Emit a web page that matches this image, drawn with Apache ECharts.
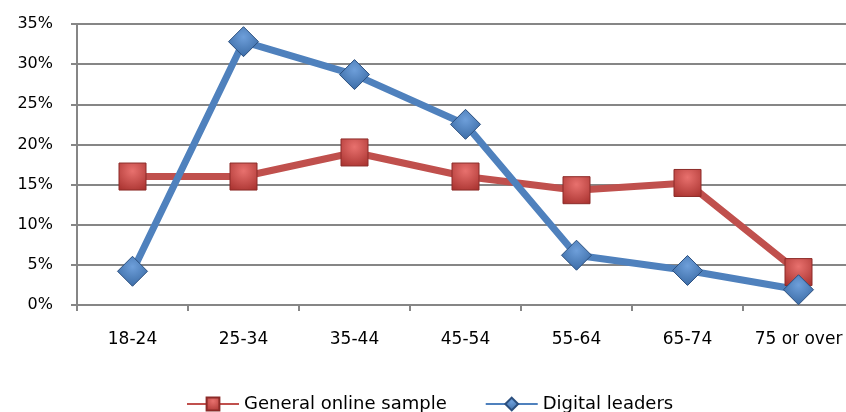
<!DOCTYPE html>
<html>
<head>
    <meta charset="utf-8">
    <title>Age profile</title>
    <script type="text/javascript" src="https://cdn.jsdelivr.net/npm/echarts@6/dist/echarts.min.js"></script>
</head>
<body style="margin:0;background:#fff;">
    <div id="main" style="width:846px; height:412px;"></div>
    <script type="text/javascript">
    // 数据
    var ageGroups = ['18-24', '25-34', '35-44', '45-54', '55-64', '65-74', '75 or over'];
    var generalSample = [16, 16, 19, 16, 14.3, 15.2, 4.1];
    var digitalLeaders = [4.2, 32.8, 28.7, 22.5, 6.2, 4.3, 1.9];

    var myChart = echarts.init(document.getElementById('main'));

    var font = 'DejaVu Sans';
    var red = '#C0504D';
    var blue = '#4F81BD';

    var option = {
        animation: false,
        backgroundColor: '#ffffff',
        legend: {
            left: 186,
            top: 395,
            padding: 0,
            itemWidth: 52,
            itemHeight: 16,
            itemGap: 38,
            textStyle: {
                fontFamily: font,
                fontSize: 18,
                color: '#000'
            },
            data: ['General online sample', 'Digital leaders']
        },
        grid: {
            left: 77,
            top: 24,
            width: 777,
            height: 281,
            outerBoundsMode: 'none'
        },
        xAxis: {
            type: 'category',
            data: ageGroups,
            boundaryGap: true,
            axisLine: { lineStyle: { color: '#868686', width: 2 } },
            axisTick: { show: true, interval: 0, length: 6, lineStyle: { color: '#868686', width: 2 } },
            axisLabel: {
                interval: 0,
                hideOverlap: false,
                fontFamily: font,
                fontSize: 17,
                color: '#000',
                margin: 26
            }
        },
        yAxis: {
            type: 'value',
            min: 0,
            max: 35,
            interval: 5,
            axisLine: { show: true, lineStyle: { color: '#868686', width: 2 } },
            axisTick: { show: true, length: 6, lineStyle: { color: '#868686', width: 2 } },
            splitLine: { lineStyle: { color: '#868686', width: 2 } },
            axisLabel: {
                fontFamily: font,
                fontSize: 16,
                color: '#000',
                margin: 24,
                formatter: '{value}%'
            }
        },
        series: [
            {
                name: 'General online sample',
                type: 'line',
                data: generalSample,
                symbol: 'rect',
                symbolSize: 27,
                lineStyle: { color: red, width: 7 },
                itemStyle: {
                    color: new echarts.graphic.RadialGradient(0.5, 0.3, 0.8, [
                        { offset: 0, color: '#E8716E' },
                        { offset: 1, color: '#A8322F' }
                    ]),
                    borderColor: '#8C2B28',
                    borderWidth: 1
                }
            },
            {
                name: 'Digital leaders',
                type: 'line',
                data: digitalLeaders,
                symbol: 'diamond',
                symbolSize: [30, 30],
                lineStyle: { color: blue, width: 7 },
                itemStyle: {
                    color: new echarts.graphic.RadialGradient(0.5, 0.35, 0.8, [
                        { offset: 0, color: '#6E9FDA' },
                        { offset: 1, color: '#2F5F99' }
                    ]),
                    borderColor: '#2B4F7E',
                    borderWidth: 1
                }
            }
        ]
    };

    myChart.setOption(option);
    </script>
</body>
</html>
